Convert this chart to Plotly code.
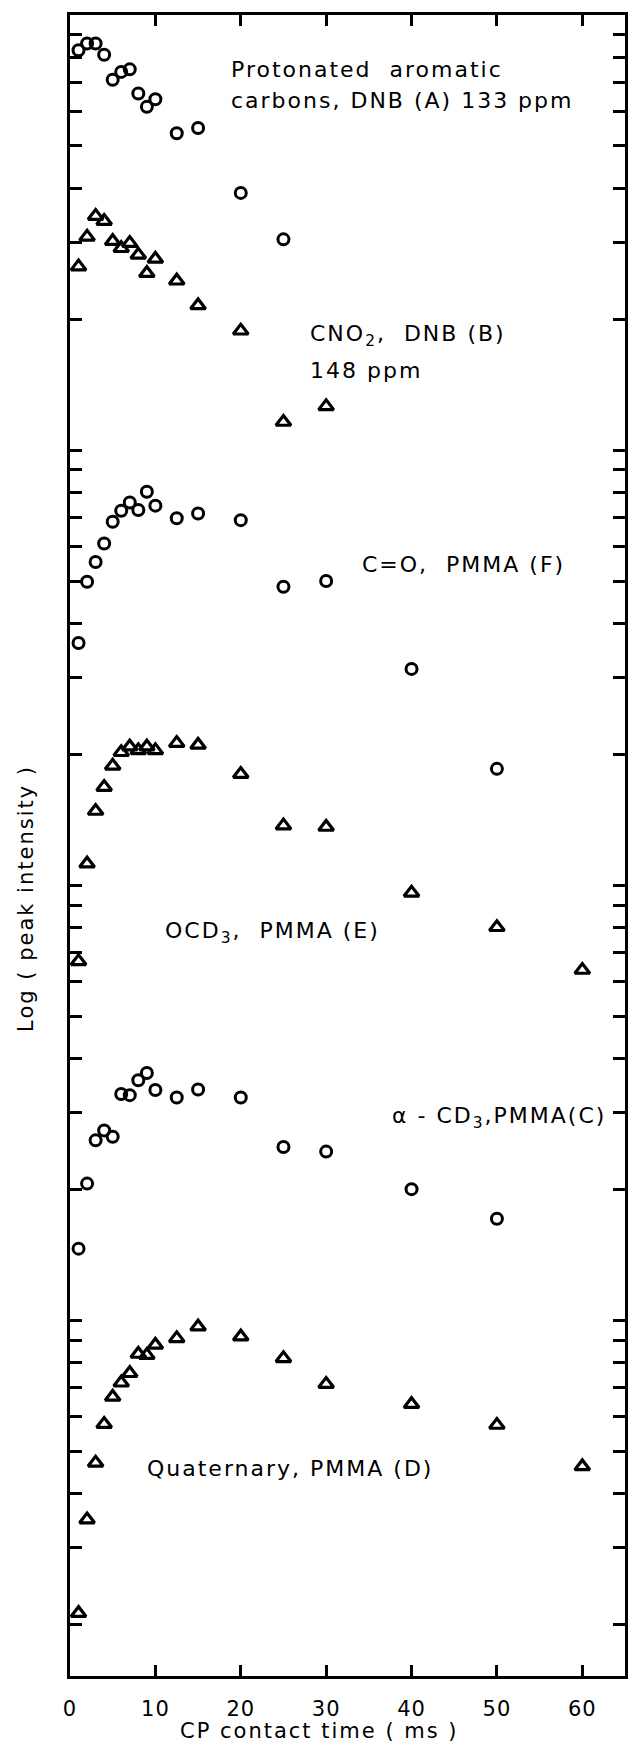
import plotly.graph_objects as go

# ---- data (CP contact time in ms, peak intensity in arbitrary units, log scale) ----
A_x = [1, 2, 3, 4, 5, 6, 7, 8, 9, 10, 12.5, 15, 20, 25]
A_y = [8300, 8600, 8600, 8100, 7100, 7400, 7500, 6600, 6150, 6400, 5350, 5500, 3900, 3050]

B_x = [1, 2, 3, 4, 5, 6, 7, 8, 9, 10, 12.5, 15, 20, 25, 30]
B_y = [2640, 3090, 3450, 3360, 3020, 2910, 2990, 2810, 2550, 2750, 2450, 2150, 1880, 1160, 1260]

F_x = [1, 2, 3, 4, 5, 6, 7, 8, 9, 10, 12.5, 15, 20, 25, 30, 40, 50]
F_y = [360, 498, 553, 610, 684, 725, 758, 728, 802, 745, 697, 715, 690, 485, 500, 314, 185]

E_x = [1, 2, 3, 4, 5, 6, 7, 8, 9, 10, 12.5, 15, 20, 25, 30, 40, 50, 60]
E_y = [66.8, 112, 148, 168, 188, 202, 208, 204, 208, 204, 212, 210, 180, 137, 136, 96, 80, 63.8]

C_x = [1, 2, 3, 4, 5, 6, 7, 8, 9, 10, 12.5, 15, 20, 25, 30, 40, 50]
C_y = [14.6, 20.6, 25.9, 27.3, 26.4, 33.1, 32.9, 35.6, 37.0, 33.8, 32.5, 33.9, 32.5, 25.0, 24.4, 20.0, 17.1]

D_x = [1, 2, 3, 4, 5, 6, 7, 8, 9, 10, 12.5, 15, 20, 25, 30, 40, 50, 60]
D_y = [2.12, 3.48, 4.70, 5.77, 6.66, 7.18, 7.55, 8.36, 8.31, 8.77, 9.08, 9.66, 9.16, 8.17, 7.13, 6.41, 5.74, 4.61]

x_ticks = [0, 10, 20, 30, 40, 50, 60]
x_ticklabels = ["0", "10", "20", "30", "40", "50", "60"]
y_ticks = [k * 10 ** d for d in range(0, 4) for k in range(1, 10)]

FONT = "DejaVu Sans"

circle = dict(symbol="circle-open", size=11, color="black", line=dict(width=3, color="black"))
tri = dict(symbol="triangle-up-open", size=13, color="black", line=dict(width=3.2, color="black"))

fig = go.Figure()
for xs, ys, mk in [(A_x, A_y, circle), (B_x, B_y, tri), (F_x, F_y, circle),
                   (E_x, E_y, tri), (C_x, C_y, circle), (D_x, D_y, tri)]:
    fig.add_trace(go.Scatter(x=xs, y=ys, mode="markers", marker=mk, showlegend=False,
                             cliponaxis=False))

axis_common = dict(showline=True, linewidth=3, linecolor="black", mirror="ticks",
                   ticks="inside", tickwidth=3, tickcolor="black", showgrid=False,
                   zeroline=False)

fig.update_xaxes(range=[0, 65], tickvals=x_ticks, ticktext=x_ticklabels, ticklen=11,
                 tickfont=dict(family=FONT, size=21, color="black"),
                 ticklabelstandoff=12, **axis_common)
fig.update_yaxes(type="log", range=[0.182, 4.0], tickvals=y_ticks, ticklen=12,
                 showticklabels=False, **axis_common)

labels = [
    ("Protonated  aromatic", 0.2867, 0.9669),
    ("carbons, DNB (A) 133 ppm", 0.2867, 0.9488),
    ("CNO<sub>2</sub>,  DNB (B)", 0.4283, 0.8073),
    ("148 ppm", 0.4283, 0.7857),
    ("C=O,  PMMA (F)", 0.5233, 0.6689),
    ("OCD<sub>3</sub>,  PMMA (E)", 0.1667, 0.4479),
    ("α - CD<sub>3</sub>,PMMA(C)", 0.5771, 0.3365),
    ("Quaternary, PMMA (D)", 0.1353, 0.1252),
]
annotations = []
for txt, ax_, ay_ in labels:
    annotations.append(dict(text=txt, x=ax_, y=ay_, xref="paper", yref="paper",
                            xanchor="left", yanchor="middle", align="left", showarrow=False,
                            font=dict(family=FONT, size=22, color="black")))
annotations.append(dict(text="Log ( peak intensity )", x=-0.0806, y=0.468, xref="paper",
                        yref="paper", textangle=-90, xanchor="center", yanchor="middle",
                        showarrow=False, font=dict(family=FONT, size=21, color="black")))
annotations.append(dict(text="CP contact time ( ms )", x=0.1953, y=-0.0331, xref="paper",
                        yref="paper", xanchor="left", yanchor="middle", align="left",
                        showarrow=False, font=dict(family=FONT, size=21, color="black")))

fig.update_layout(width=637, height=1745, margin=dict(l=70, r=9, t=15, b=69),
                  paper_bgcolor="white", plot_bgcolor="white", annotations=annotations,
                  font=dict(family=FONT, color="black"))

spacing_js = (
    "document.querySelectorAll('.annotation-text').forEach(function(e){"
    "e.style.letterSpacing='2px';});"
    "document.querySelectorAll('.xtick text').forEach(function(e){"
    "e.style.letterSpacing='1px';});"
)

fig.write_html("out.html", post_script=spacing_js)
